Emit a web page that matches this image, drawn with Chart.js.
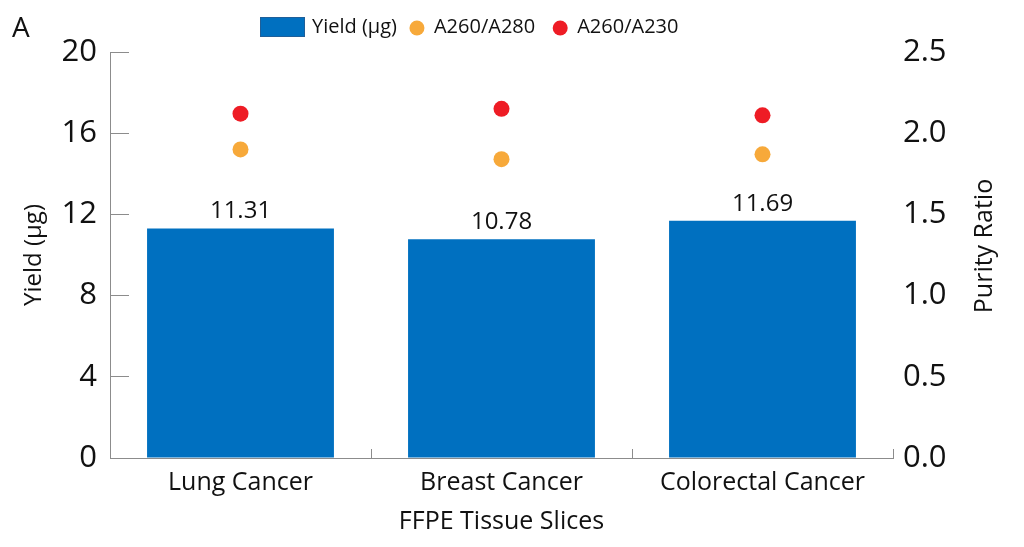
<!DOCTYPE html>
<html>
<head>
<meta charset="utf-8">
<script src="https://cdn.jsdelivr.net/npm/chart.js@4.4.1/dist/chart.umd.min.js"></script>
<style>
  html, body { margin: 0; padding: 0; background: #fff; }
  #wrap { width: 1024px; height: 547px; position: relative; }
</style>
</head>
<body>
<div id="wrap"><canvas id="chart"></canvas></div>
<script>
// --- data
const categories = ['Lung Cancer', 'Breast Cancer', 'Colorectal Cancer'];
const yieldUg = [11.31, 10.78, 11.69];
const a260a280 = [1.90, 1.84, 1.87];
const a260a230 = [2.12, 2.15, 2.11];
const yieldTicks = [0, 4, 8, 12, 16, 20];
const purityTicks = [0, 0.5, 1.0, 1.5, 2.0, 2.5];

const FONT = '"Open Sans", "Noto Sans", sans-serif';
const BLUE = '#0070c0', ORANGE = '#f7a93a', RED = '#ee1c25';
const AXIS = '#8c8c8c', TEXT = '#111';

// bar value labels
const valueLabels = {
  id: 'valueLabels',
  afterDatasetsDraw(chart) {
    const c = chart.ctx;
    const meta = chart.getDatasetMeta(0);
    c.save();
    c.font = `24px ${FONT}`;
    c.fillStyle = TEXT;
    c.textAlign = 'center';
    c.textBaseline = 'alphabetic';
    meta.data.forEach((bar, i) => {
      c.fillText(yieldUg[i].toFixed(2), bar.x, bar.y - 10);
    });
    c.restore();
  }
};

// legend, panel letter and right axis title (reads bottom-to-top like the left one)
const extras = {
  id: 'extras',
  afterDraw(chart) {
    const c = chart.ctx;
    c.save();
    c.fillStyle = TEXT;
    c.font = `28px ${FONT}`;
    c.textBaseline = 'alphabetic';
    c.fillText('A', 12, 37);

    const r = chart.scales.y1;
    c.save();
    c.translate(985, (r.top + r.bottom) / 2 - 9);
    c.rotate(-Math.PI / 2);
    c.font = `25px ${FONT}`;
    c.textAlign = 'center';
    c.textBaseline = 'middle';
    c.fillText('Purity Ratio', 0, 0);
    c.restore();

    c.font = `20px ${FONT}`;
    c.textBaseline = 'middle';
    const cy = 27;
    let x = 260;
    const ds = chart.data.datasets;
    c.fillStyle = ds[0].backgroundColor;
    c.fillRect(x, cy - 10, 45, 20);
    c.strokeStyle = '#1f5f99';
    c.lineWidth = 1;
    c.strokeRect(x + 0.5, cy - 9.5, 44, 19);
    x += 52;
    c.fillStyle = TEXT;
    c.fillText(ds[0].label, x, cy);
    x += c.measureText(ds[0].label).width + 20;
    [ds[1], ds[2]].forEach(d => {
      c.fillStyle = d.backgroundColor;
      c.beginPath();
      c.arc(x, cy + 1, 7.5, 0, Math.PI * 2);
      c.fill();
      x += 17;
      c.fillStyle = TEXT;
      c.fillText(d.label, x, cy);
      x += c.measureText(d.label).width + 25;
    });
    c.restore();
  }
};

new Chart(document.getElementById('chart'), {
  type: 'bar',
  data: {
    labels: categories,
    datasets: [
      { label: 'Yield (μg)', data: yieldUg, backgroundColor: BLUE, yAxisID: 'y',
        categoryPercentage: 1, barPercentage: 0.716, order: 3 },
      { type: 'line', label: 'A260/A280', data: a260a280, yAxisID: 'y1', showLine: false,
        pointRadius: 8, pointHoverRadius: 8, pointBackgroundColor: ORANGE, backgroundColor: ORANGE,
        pointBorderWidth: 0, borderColor: ORANGE, order: 1 },
      { type: 'line', label: 'A260/A230', data: a260a230, yAxisID: 'y1', showLine: false,
        pointRadius: 8, pointHoverRadius: 8, pointBackgroundColor: RED, backgroundColor: RED,
        pointBorderWidth: 0, borderColor: RED, order: 2 }
    ]
  },
  options: {
    responsive: true,
    maintainAspectRatio: false,
    animation: false,
    layout: { padding: { top: 52, right: 0, left: 0, bottom: 0 } },
    plugins: { legend: { display: false }, tooltip: { enabled: false } },
    scales: {
      x: {
        offset: true,
        afterFit: s => { s.height = 89; },
        grid: { offset: true, drawOnChartArea: false, drawTicks: true, tickLength: -9, color: AXIS },
        border: { display: true, color: AXIS, width: 1 },
        ticks: { font: { family: FONT, size: 25 }, color: TEXT, padding: 19 },
        title: { display: true, text: 'FFPE Tissue Slices', font: { family: FONT, size: 25 }, color: TEXT, padding: { top: 0, bottom: 10 } }
      },
      y: {
        position: 'left',
        min: 0, max: 20,
        afterFit: s => { s.width = 110; },
        afterBuildTicks: s => { s.ticks = yieldTicks.map(v => ({ value: v })); },
        grid: { drawOnChartArea: false, drawTicks: true, tickLength: -19, color: AXIS },
        border: { display: true, color: AXIS, width: 1 },
        ticks: { font: { family: FONT, size: 31 }, color: TEXT, padding: 32 },
        title: { display: true, text: 'Yield (μg)', font: { family: FONT, size: 24 }, color: TEXT, padding: { top: 20, bottom: 0 } }
      },
      y1: {
        position: 'right',
        min: 0, max: 2.5,
        afterFit: s => { s.width = 131; },
        afterBuildTicks: s => { s.ticks = purityTicks.map(v => ({ value: v })); },
        grid: { display: false, drawOnChartArea: false, drawTicks: false },
        border: { display: false },
        ticks: { font: { family: FONT, size: 31 }, color: TEXT, padding: 10, callback: v => Number(v).toFixed(1) }
      }
    }
  },
  plugins: [valueLabels, extras]
});
</script>
</body>
</html>
